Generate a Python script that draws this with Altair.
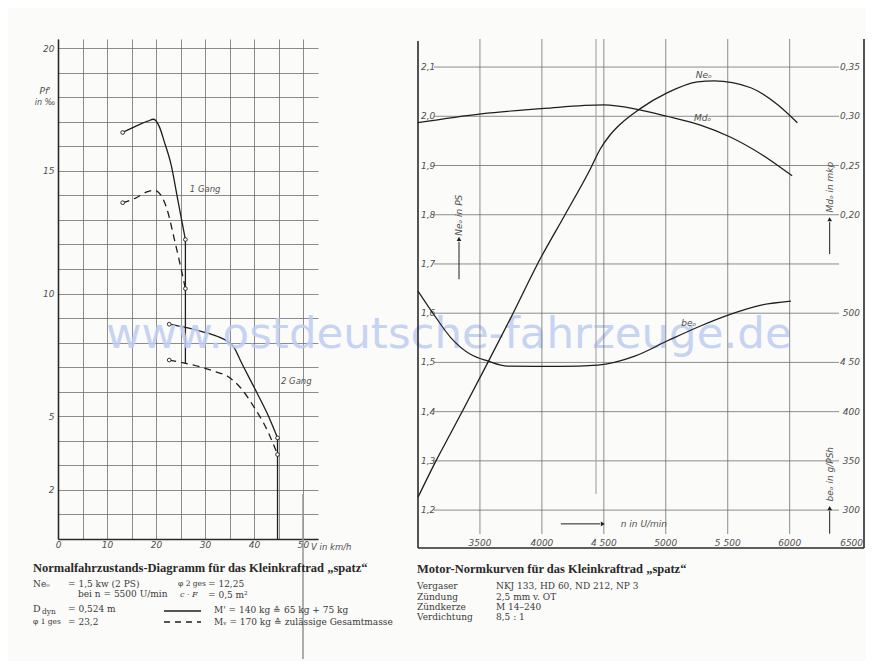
import altair as alt
import pandas as pd

# ---------------- Left chart: Normalfahrzustands-Diagramm ----------------
g1_M_v = [13.2, 15.6, 18.3, 19.5, 20.7, 21.7, 23.1, 24.4, 26.0]
g1_M_p = [16.56, 16.79, 17.02, 17.10, 16.79, 16.18, 15.23, 13.87, 12.20]
g1_Mv_v = [13.2, 15.6, 18.3, 19.65, 21.0, 22.4, 23.7, 25.1, 26.0]
g1_Mv_p = [13.70, 13.87, 14.15, 14.21, 14.01, 13.33, 12.25, 11.03, 10.20]
g2_M_v = [22.7, 29.2, 32.6, 34.6, 36.0, 37.3, 40.1, 42.8, 44.8]
g2_M_p = [8.75, 8.46, 8.25, 8.05, 7.78, 7.24, 6.15, 5.07, 4.12]
g2_Mv_v = [22.7, 29.2, 31.9, 34.6, 37.3, 40.1, 42.8, 44.8]
g2_Mv_p = [7.29, 7.00, 6.83, 6.63, 6.15, 5.34, 4.39, 3.44]
shift_v = [26.0, 44.8]
shift_top = [12.20, 4.12]
shift_bot = [7.15, 0.0]
left_x_ticks = [0, 5, 10, 15, 20, 25, 30, 35, 40, 45, 50]
left_y_grid = list(range(0, 21))
left_y_labelled = [2, 5, 10, 15, 20]
gear_labels = ["1 Gang", "2 Gang"]
gear_label_v = [26.9, 45.5]
gear_label_p = [14.27, 6.42]

# ---------------- Right chart: Motor-Normkurven ----------------
rpm_ne = [3000, 3145, 3266, 3373, 3562, 3750, 3992, 4180, 4395, 4470, 4550, 4637, 4785, 5014, 5256, 5390, 5686, 5901, 6062]
ne_ps = [1.226, 1.300, 1.357, 1.408, 1.499, 1.591, 1.713, 1.797, 1.895, 1.933, 1.962, 1.985, 2.014, 2.048, 2.070, 2.072, 2.058, 2.024, 1.987]
rpm_md = [3000, 3510, 4020, 4500, 4770, 5010, 5280, 5520, 5770, 6020]
md_mkp = [0.2935, 0.3025, 0.3080, 0.3115, 0.3070, 0.3000, 0.2910, 0.2790, 0.2615, 0.2395]
rpm_be = [3000, 3145, 3266, 3427, 3562, 3723, 4153, 4450, 4750, 5010, 5280, 5520, 5770, 6010]
be_gpsh = [522.5, 495.5, 475.0, 458.0, 451.5, 446.3, 446.0, 447.3, 456.4, 471.7, 487.0, 498.8, 508.2, 512.3]
ne_ticks = [1.2, 1.3, 1.4, 1.5, 1.6, 1.7, 1.8, 1.9, 2.0, 2.1]
ne_tick_labels = ["1,2", "1,3", "1,4", "1,5", "1,6", "1,7", "1,8", "1,9", "2,0", "2,1"]
md_ticks = [0.20, 0.25, 0.30, 0.35]
md_tick_labels = ["0,20", "0,25", "0,30", "0,35"]
be_ticks = [300, 350, 400, 450, 500]
be_tick_labels = ["300", "350", "400", "4 50", "500"]
rpm_ticks = [3500, 4000, 4500, 5000, 5500, 6000, 6500]
rpm_tick_labels = ["3500", "4000", "4 500", "5000", "5 500", "6000", "6500"]
rpm_grid = [3500, 4000, 4500, 5000, 5500, 6000]

SANS = "DejaVu Sans"
SERIF = "DejaVu Serif"
INK = "#1e1e1e"
GRID = "#707070"
LBL = "#505050"
TXT = "#3a3a3a"
BG = "#fbfbf9"

W1, H1 = 260, 500
W2, H2 = 446, 509


def txt(s, x, y, size=9.5, font=SERIF, weight="normal", style="normal",
        color=TXT, align="left", baseline="middle", opacity=1.0):
    return alt.Chart(pd.DataFrame({"t": [s]})).mark_text(
        align=align, baseline=baseline, font=font, fontSize=size,
        fontWeight=weight, fontStyle=style, color=color, opacity=opacity
    ).encode(text="t:N", x=alt.value(x), y=alt.value(y))


# ---------- left panel ----------
xs1 = alt.Scale(domain=[0, 53.06], nice=False, zero=False)
ys1 = alt.Scale(domain=[0, 20.37], nice=False, zero=False)
ax1 = alt.Axis(values=left_x_ticks, labelExpr="datum.value % 10 == 0 ? datum.label : ''",
               grid=True, gridColor=GRID, gridWidth=0.8, domainColor="#2a2a2a", domainWidth=1.6,
               ticks=False, labelFont=SANS, labelFontStyle="italic", labelFontSize=9,
               labelColor=LBL, labelPadding=1, labelFlush=False, title=None)
ay1 = alt.Axis(values=left_y_grid,
               labelExpr="indexof([2,5,10,15,20], datum.value) >= 0 ? datum.label : ''",
               grid=True, gridColor=GRID, gridWidth=0.8, domainColor="#2a2a2a", domainWidth=1.6,
               ticks=False, labelFont=SANS, labelFontStyle="italic", labelFontSize=9,
               labelColor=LBL, labelPadding=4, labelFlush=False, title=None)


def lx(f):
    return alt.X(f, type="quantitative", scale=xs1, axis=ax1)


def ly(f):
    return alt.Y(f, type="quantitative", scale=ys1, axis=ay1)


def curve(vs, ps, dash=None):
    kw = dict(color=INK, strokeWidth=1.3, interpolate="monotone")
    if dash:
        kw["strokeDash"] = dash
    return alt.Chart(pd.DataFrame({"v": vs, "p": ps})).mark_line(**kw).encode(x=lx("v"), y=ly("p"))


series = [(g1_M_v, g1_M_p), (g1_Mv_v, g1_Mv_p), (g2_M_v, g2_M_p), (g2_Mv_v, g2_Mv_p)]
end_v, end_p = [], []
for vs, ps in series:
    end_v += [vs[0], vs[-1]]
    end_p += [ps[0], ps[-1]]

left_layers = [
    curve(g1_M_v, g1_M_p),
    curve(g1_Mv_v, g1_Mv_p, [7, 5]),
    curve(g2_M_v, g2_M_p),
    curve(g2_Mv_v, g2_Mv_p, [7, 5]),
    alt.Chart(pd.DataFrame({"v": shift_v, "p": shift_top, "p2": shift_bot})).mark_rule(
        color=INK, strokeWidth=1.3).encode(x=lx("v"), y=ly("p"), y2="p2"),
    alt.Chart(pd.DataFrame({"v": end_v, "p": end_p})).mark_point(
        shape="circle", filled=True, fill=BG, stroke=INK, strokeWidth=0.9, size=14, opacity=1
    ).encode(x=lx("v"), y=ly("p")),
    alt.Chart(pd.DataFrame({"v": gear_label_v, "p": gear_label_p, "t": gear_labels})).mark_text(
        align="left", baseline="middle", font=SANS, fontStyle="italic", fontSize=8.5, color=LBL
    ).encode(x=lx("v"), y=ly("p"), text="t:N"),
    txt("V in km/h", 253, 508, size=8.5, font=SANS, style="italic", color=LBL),
    txt("Pf'", -13, 52, size=9, font=SANS, style="italic", color=LBL, align="center"),
    txt("in ‰", -13, 64, size=8, font=SANS, style="italic", color=LBL, align="center"),
    # fold of the sheet
    alt.Chart(pd.DataFrame({"a": [0]})).mark_rule(color="#9a9a9a", strokeWidth=1.6).encode(
        x=alt.value(245), y=alt.value(455), y2=alt.value(620)),
    # text block
    txt("Normalfahrzustands-Diagramm für das Kleinkraftrad „spatz“", -25, 529,
        size=12.5, font="Liberation Serif", weight="bold", color="#2a2a2a"),
    txt("Neₒ", -25, 545, size=9),
    txt("= 1,5 kw (2 PS)", 10, 545, size=9),
    txt("bei n = 5500 U/min", 20, 555, size=9),
    txt("φ 2 ges", 120, 545, size=7.5),
    txt("= 12,25", 150, 545, size=9),
    txt("c · F", 122, 556, size=8, style="italic"),
    txt("= 0,5 m²", 150, 556, size=9),
    txt("D", -25, 570, size=9.5),
    txt("dyn", -16, 573, size=7.5),
    txt("= 0,524 m", 10, 570, size=9),
    txt("φ 1 ges", -25, 583, size=7.5),
    txt("= 23,2", 10, 583, size=9),
    alt.Chart(pd.DataFrame({"a": [0]})).mark_rule(color=INK, strokeWidth=1.5).encode(
        x=alt.value(106), x2=alt.value(143), y=alt.value(572)),
    alt.Chart(pd.DataFrame({"a": [0]})).mark_rule(color=INK, strokeWidth=1.5, strokeDash=[6, 5]).encode(
        x=alt.value(106), x2=alt.value(143), y=alt.value(583)),
    txt("M' = 140 kg ≙ 65 kg + 75 kg", 156, 571, size=9),
    txt("Mᵥ = 170 kg ≙ zulässige Gesamtmasse", 156, 583, size=9),
    # watermark
    txt("www.ostdeutsche-fahrzeuge.de", 48, 309, size=43.5, font=SANS, color="#bfcdf2",
        baseline="alphabetic", opacity=0.85),
    # layout anchor (top-left of the page)
    alt.Chart(pd.DataFrame({"a": [0]})).mark_rule(color=BG, strokeWidth=1).encode(
        x=alt.value(-49), x2=alt.value(-48), y=alt.value(-30)),
]
left = alt.layer(*left_layers).properties(width=W1, height=H1)

# ---------- right panel ----------
NE_DOM = [1.123, 2.157]
MD_DOM = [0.5 * NE_DOM[0] - 0.70, 0.5 * NE_DOM[1] - 0.70]
BE_DOM = [500 * NE_DOM[0] - 300, 500 * NE_DOM[1] - 300]
xs2 = alt.Scale(domain=[3000, 6600], nice=False, zero=False)


def rx(f):
    return alt.X(f, type="quantitative", scale=xs2, axis=None)


def rne(f):
    return alt.Y(f, type="quantitative", scale=alt.Scale(domain=NE_DOM, nice=False, zero=False), axis=None)


def rmd(f):
    return alt.Y(f, type="quantitative", scale=alt.Scale(domain=MD_DOM, nice=False, zero=False), axis=None)


def rbe(f):
    return alt.Y(f, type="quantitative", scale=alt.Scale(domain=BE_DOM, nice=False, zero=False), axis=None)


def one():
    return alt.Chart(pd.DataFrame({"a": [0]}))


lab_kw = dict(font=SANS, fontStyle="italic", fontSize=9, color=LBL, baseline="middle")

right_layers = [
    alt.Chart(pd.DataFrame({"n": rpm_grid})).mark_rule(color=GRID, strokeWidth=0.8).encode(
        x=rx("n"), y=alt.value(0), y2=alt.value(H2 - 14)),
    alt.Chart(pd.DataFrame({"ne": ne_ticks})).mark_rule(color=GRID, strokeWidth=0.8).encode(
        y=rne("ne"), x=alt.value(16), x2=alt.value(421)),
    # frame
    one().mark_rule(color="#2a2a2a", strokeWidth=1.6).encode(x=alt.value(0), y=alt.value(2), y2=alt.value(H2)),
    one().mark_rule(color="#2a2a2a", strokeWidth=1.6).encode(x=alt.value(W2), y=alt.value(0), y2=alt.value(H2)),
    one().mark_rule(color="#2a2a2a", strokeWidth=1.6).encode(x=alt.value(0), x2=alt.value(W2), y=alt.value(H2)),
    # fold of the sheet
    one().mark_rule(color="#a8a8a8", strokeWidth=1.2).encode(x=alt.value(178), y=alt.value(0), y2=alt.value(455)),
    # tick labels
    alt.Chart(pd.DataFrame({"ne": ne_ticks, "t": ne_tick_labels})).mark_text(align="left", **lab_kw).encode(
        y=rne("ne"), x=alt.value(3), text="t:N"),
    alt.Chart(pd.DataFrame({"md": md_ticks, "t": md_tick_labels})).mark_text(align="right", **lab_kw).encode(
        y=rmd("md"), x=alt.value(W2 - 4), text="t:N"),
    alt.Chart(pd.DataFrame({"be": be_ticks, "t": be_tick_labels})).mark_text(align="right", **lab_kw).encode(
        y=rbe("be"), x=alt.value(W2 - 4), text="t:N"),
    alt.Chart(pd.DataFrame({"n": rpm_ticks, "t": rpm_tick_labels})).mark_text(align="center", **lab_kw).encode(
        x=rx("n"), y=alt.value(H2 - 5), text="t:N"),
    # curves
    alt.Chart(pd.DataFrame({"n": rpm_ne, "v": ne_ps})).mark_line(
        color=INK, strokeWidth=1.3, interpolate="monotone").encode(x=rx("n"), y=rne("v")),
    alt.Chart(pd.DataFrame({"n": rpm_md, "v": md_mkp})).mark_line(
        color=INK, strokeWidth=1.2, interpolate="monotone").encode(x=rx("n"), y=rmd("v")),
    alt.Chart(pd.DataFrame({"n": rpm_be, "v": be_gpsh})).mark_line(
        color=INK, strokeWidth=1.2, interpolate="monotone").encode(x=rx("n"), y=rbe("v")),
    # curve labels
    alt.Chart(pd.DataFrame({"n": [5306, 5298, 5185], "v": [2.084, 1.996, 1.58],
                            "t": ["Neₒ", "Mdₒ", "beₒ"]})).mark_text(align="center", **lab_kw).encode(
        x=rx("n"), y=rne("v"), text="t:N"),
    # axis titles with arrows
    alt.Chart(pd.DataFrame({"n": [3331, 6323, 6323], "v": [1.799, 1.856, 1.273],
                            "t": ["Neₒ in PS", "Mdₒ in mkp", "beₒ in g/PSh"]})).mark_text(
        align="center", angle=270, **lab_kw).encode(x=rx("n"), y=rne("v"), text="t:N"),
    alt.Chart(pd.DataFrame({"n": [3331, 6323, 6323], "v": [1.669, 1.720, 1.152],
                            "v2": [1.745, 1.785, 1.198]})).mark_rule(color=INK, strokeWidth=1).encode(
        x=rx("n"), y=rne("v"), y2="v2"),
    alt.Chart(pd.DataFrame({"n": [3331, 6323, 6323], "v": [1.751, 1.791, 1.204]})).mark_point(
        shape="triangle-up", filled=True, color=INK, size=22, opacity=1).encode(x=rx("n"), y=rne("v")),
    alt.Chart(pd.DataFrame({"n": [4153], "n2": [4470], "v": [1.172]})).mark_rule(color=INK, strokeWidth=1).encode(
        x=rx("n"), x2="n2", y=rne("v")),
    alt.Chart(pd.DataFrame({"n": [4492], "v": [1.172]})).mark_point(
        shape="triangle-right", filled=True, color=INK, size=22, opacity=1).encode(x=rx("n"), y=rne("v")),
    alt.Chart(pd.DataFrame({"n": [4637], "v": [1.172], "t": ["n  in U/min"]})).mark_text(
        align="left", **lab_kw).encode(x=rx("n"), y=rne("v"), text="t:N"),
    # text block
    txt("Motor-Normkurven für das Kleinkraftrad „spatz“", -1, 530,
        size=12.5, font="Liberation Serif", weight="bold", color="#2a2a2a"),
    txt("Vergaser", -1, 547, size=9),
    txt("Zündung", -1, 558, size=9),
    txt("Zündkerze", -1, 568, size=9),
    txt("Verdichtung", -1, 578, size=9),
    txt("NKJ 133, HD 60, ND 212, NP 3", 78, 547, size=9),
    txt("2,5 mm v. OT", 78, 558, size=9),
    txt("M 14–240", 78, 568, size=9),
    txt("8,5 : 1", 78, 578, size=9),
]
right = alt.layer(*right_layers).resolve_scale(y="independent").properties(width=W2, height=H2)

chart = alt.hconcat(left, right, spacing=100, bounds="flush").properties(
    padding=0, background=BG
).configure_view(stroke="transparent")

chart.save("out.html", embed_options={"renderer": "svg", "actions": False})
